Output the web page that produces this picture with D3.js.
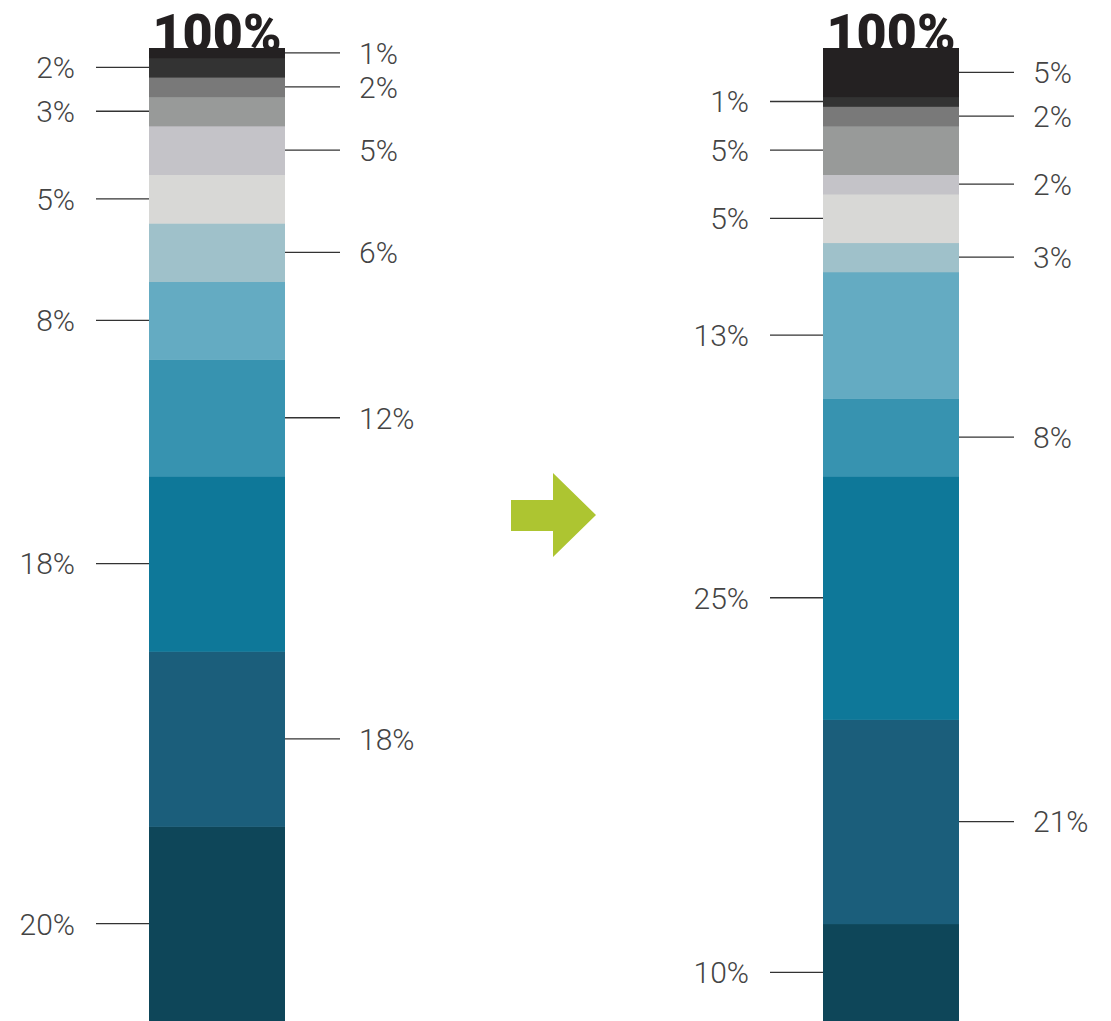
<!DOCTYPE html>
<html>
<head>
<meta charset="utf-8">
<script src="https://cdn.jsdelivr.net/npm/d3@7"></script>
<style>
  html, body { margin: 0; padding: 0; background: #fff; }
  svg { display: block; }
</style>
</head>
<body>
<svg id="chart" width="1111" height="1021"></svg>
<script>
// Segment labels, bottom to top
const segments = ["s1","s2","s3","s4","s5","s6","s7","s8","s9","s10","s11","s12"];
const beforeValues = [20, 18, 18, 12, 8, 6, 5, 5, 3, 2, 2, 1];
const afterValues  = [10, 21, 25, 8, 13, 3, 5, 2, 5, 2, 1, 5];
const segmentColors = ["#0e4659","#1b5e7b","#0e7899","#3793b0","#64abc2","#9fc1ca",
                       "#d8d8d6","#c4c3c8","#989a99","#797979","#333333","#242122"];
const totalLabel = "100%";

const svg = d3.select("#chart");
const W = 1111, H = 1021;
const barTop = 48, barBottom = 1021, barW = 136;

const y = d3.scaleLinear().domain([0, 100]).range([barBottom, barTop]);
const x = d3.scaleOrdinal().domain(["before","after"]).range([149, 823]);
const color = d3.scaleOrdinal().domain(segments).range(segmentColors);

function drawBar(key, values) {
  const x0 = x(key);
  const g = svg.append("g");
  // title first so the bar overlaps it
  g.append("text")
    .attr("x", x0 + barW / 2)
    .attr("y", 51)
    .attr("text-anchor", "middle")
    .attr("font-family", "Roboto, 'Open Sans', sans-serif")
    .attr("font-weight", 900)
    .attr("font-size", 52)
    .attr("fill", "#231f20")
    .text(totalLabel);

  const stacked = [];
  let acc = 0;
  values.forEach((v, i) => {
    stacked.push({ key: segments[i], value: v, y0: acc, y1: acc + v, i });
    acc += v;
  });

  g.selectAll("rect.seg").data(stacked).join("rect")
    .attr("class", "seg")
    .attr("x", x0)
    .attr("width", barW)
    .attr("y", d => y(d.y1))
    .attr("height", d => y(d.y0) - y(d.y1) + 0.5)
    .attr("fill", d => color(d.key));

  const lab = g.selectAll("g.lab").data(stacked).join("g").attr("class", "lab");
  lab.each(function(d) {
    const sel = d3.select(this);
    const cy = (y(d.y0) + y(d.y1)) / 2;
    const leftSide = d.i % 2 === 0;
    if (leftSide) {
      sel.append("line")
        .attr("x1", x0 - 53).attr("x2", x0)
        .attr("y1", cy).attr("y2", cy)
        .attr("stroke", "#333").attr("stroke-width", 1.3);
      sel.append("text")
        .attr("x", x0 - 74).attr("y", cy)
        .attr("dy", "0.36em")
        .attr("text-anchor", "end")
        .attr("font-family", "Roboto, sans-serif")
        .attr("font-weight", 300)
        .attr("font-size", 30)
        .attr("fill", "#444")
        .text(d.value + "%");
    } else {
      sel.append("line")
        .attr("x1", x0 + barW).attr("x2", x0 + barW + 55)
        .attr("y1", cy).attr("y2", cy)
        .attr("stroke", "#333").attr("stroke-width", 1.3);
      sel.append("text")
        .attr("x", x0 + barW + 74).attr("y", cy)
        .attr("dy", "0.36em")
        .attr("text-anchor", "start")
        .attr("font-family", "Roboto, sans-serif")
        .attr("font-weight", 300)
        .attr("font-size", 30)
        .attr("fill", "#444")
        .text(d.value + "%");
    }
  });
}

drawBar("before", beforeValues);
drawBar("after", afterValues);

// green arrow between bars
const arrow = d3.path();
arrow.moveTo(511, 500);
arrow.lineTo(553, 500);
arrow.lineTo(553, 473);
arrow.lineTo(596, 515);
arrow.lineTo(553, 557);
arrow.lineTo(553, 531);
arrow.lineTo(511, 531);
arrow.closePath();
svg.append("path").attr("d", arrow.toString()).attr("fill", "#adc531");
</script>
</body>
</html>
